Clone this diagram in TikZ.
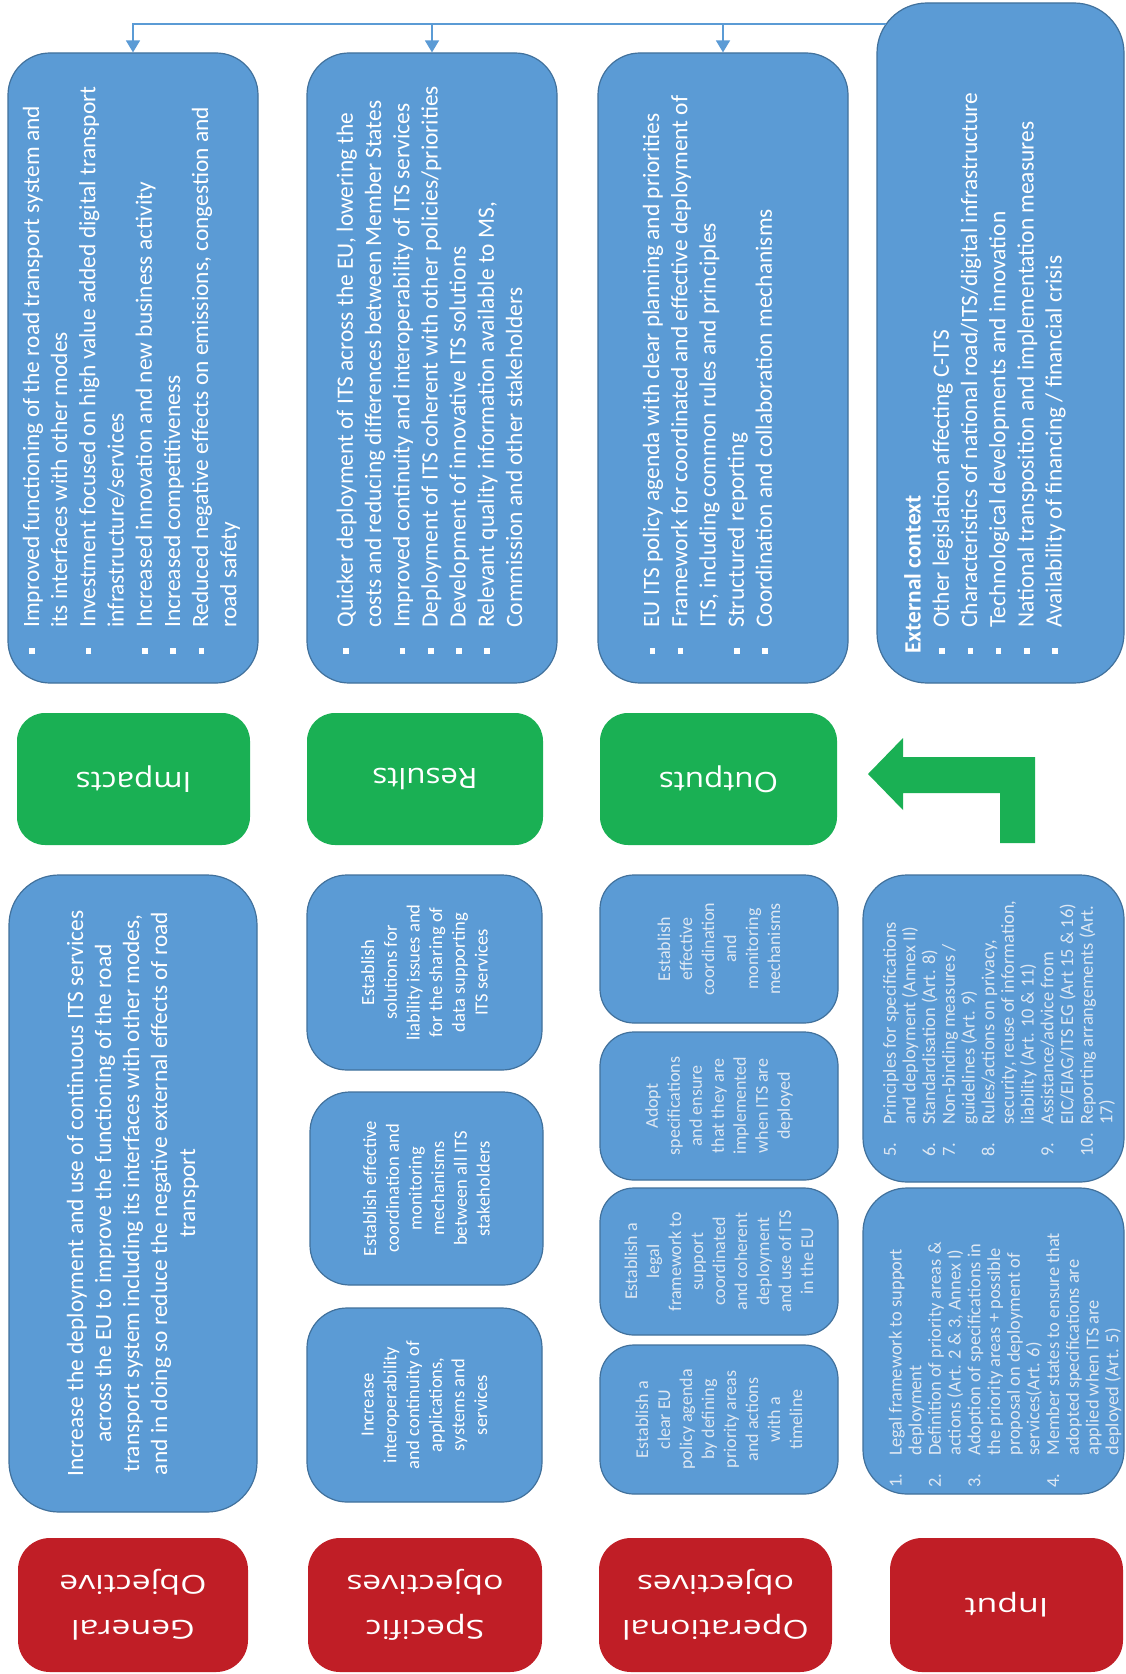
\documentclass[tikz,border=0pt]{standalone}
\usepackage{fontspec}
\setmainfont{Carlito}
\newfontfamily\labelfont{Open Sans}
\usepackage{graphicx}
\usetikzlibrary{arrows.meta}

\definecolor{itsblue}{RGB}{91,155,213}
\definecolor{itsedge}{RGB}{65,113,156}
\definecolor{itsgreen}{RGB}{26,176,84}
\definecolor{itsred}{RGB}{192,30,38}
\definecolor{paletext}{RGB}{222,232,243}

\newcommand{\bul}{\makebox[13pt][l]{\rule[2pt]{2.8pt}{2.8pt}}}
\newcommand{\bulgap}{\hspace*{13pt}}
\newcommand{\nr}[1]{\makebox[16pt][l]{#1}}
\newcommand{\nrgap}{\hspace*{16pt}}
\newcommand{\wide}[2][1.3]{\scalebox{#1}[1]{#2}}

\begin{document}
\begin{tikzpicture}[x=0.5pt, y=-0.5pt,
    bluebox/.style={draw=itsedge, line width=0.6pt, fill=itsblue, rounded corners=21pt, inner sep=0pt},
    greenbox/.style={fill=itsgreen, rounded corners=14pt, inner sep=0pt, minimum height=66pt, text=white, rotate=180, font=\labelfont\fontsize{14}{20}\selectfont},
    redbox/.style={fill=itsred, rounded corners=16pt, inner sep=0pt, minimum height=67pt, text=white, rotate=180, align=center, font=\labelfont\fontsize{13}{22.5}\selectfont},
    listtext/.style={rotate=90, anchor=west, inner sep=0pt, align=left, text=white, font=\fontsize{11.7}{14.1}\selectfont},
    gentext/.style={rotate=90, inner sep=0pt, align=center, text=white, font=\fontsize{11.7}{14}\selectfont},
    spectext/.style={rotate=90, inner sep=0pt, align=center, text=white, font=\fontsize{9.3}{11.35}\selectfont},
    optext/.style={rotate=90, inner sep=0pt, align=center, text=paletext, font=\fontsize{9}{11}\selectfont},
    intext/.style={rotate=90, anchor=west, inner sep=0pt, align=left, text=paletext, font=\fontsize{9.2}{9.85}\selectfont},
    link/.style={draw=itsblue, line width=0.8pt, -{Triangle[width=7pt,length=6pt]}}]

  \path[use as bounding box, fill=white] (0,0) rectangle (1125,1674);

  % top row
  \node[bluebox, minimum width=125pt, minimum height=315pt] (impacts) at (133,368) {};
  \node[bluebox, minimum width=125pt, minimum height=315pt] (results) at (432,368) {};
  \node[bluebox, minimum width=125pt, minimum height=315pt] (outputs) at (723,368) {};
  \node[bluebox, rounded corners=25pt, minimum width=123.5pt, minimum height=340pt] (external) at (1000.5,343) {};

  \node[listtext] (impactsTxt) at (131.5,654) {\bul Improved functioning of the road transport system and\\
    \bulgap its interfaces with other modes\\
    \bul Investment focused on high value added digital transport\\
    \bulgap infrastructure/services\\
    \bul Increased innovation and new business activity\\
    \bul Increased competitiveness\\
    \bul Reduced negative effects on emissions, congestion and\\
    \bulgap road safety};
  \node[listtext] (resultsTxt) at (429.5,654) {\bul Quicker deployment of ITS across the EU, lowering the\\
    \bulgap costs and reducing differences between Member States\\
    \bul Improved continuity and interoperability of ITS services\\
    \bul Deployment of ITS coherent with other policies/priorities\\
    \bul Development of innovative ITS solutions\\
    \bul Relevant quality information available to MS,\\
    \bulgap Commission and other stakeholders};
  \node[listtext] (outputsTxt) at (707.5,654) {\bul EU ITS policy agenda with clear planning and priorities\\
    \bul Framework for coordinated and effective deployment of\\
    \bulgap ITS, including common rules and principles\\
    \bul Structured reporting\\
    \bul Coordination and collaboration mechanisms};
  \node[listtext] (externalTxt) at (985,654) {\textbf{External context}\\
    \bul Other legislation affecting C-ITS\\
    \bul Characteristics of national road/ITS/digital infrastructure\\
    \bul Technological developments and innovation\\
    \bul National transposition and implementation measures\\
    \bul Availability of financing / financial crisis};

  \coordinate (feed) at (886,24);
  \draw[link] (feed) -| (impacts.north);
  \draw[link] (results.north |- feed) -- (results.north);
  \draw[link] (outputs.north |- feed) -- (outputs.north);

  % green row
  \node[greenbox, minimum width=116.5pt] (impactsLbl) at (133.5,779) {\wide[1.12]{Impacts}};
  \node[greenbox, minimum width=118pt] (resultsLbl) at (425,779) {\wide[1.12]{Results}};
  \node[greenbox, minimum width=118.5pt] (outputsLbl) at (718.5,779) {\wide[1.12]{Outputs}};
  \fill[itsgreen] (868,774) -- (903,738) -- (903,757) -- (1035,757) -- (1035,843)
    -- (1000,843) -- (1000,793) -- (903,793) -- (903,810) -- cycle;

  % objectives and input
  \node[bluebox, rounded corners=25pt, minimum width=124pt, minimum height=318.5pt] (general) at (133,1193.5) {};
  \node[gentext] (generalTxt) at (general) {Increase the deployment and use of continuous ITS services\\
    across the EU to improve the functioning of the road\\
    transport system including its interfaces with other modes,\\
    and in doing so reduce the negative external effects of road\\
    transport};

  \node[bluebox, rounded corners=20pt, minimum width=117.5pt, minimum height=97.5pt] (spec1) at (424.5,972.5) {};
  \node[bluebox, rounded corners=20pt, minimum width=116.5pt, minimum height=96.5pt] (spec2) at (426.5,1188.5) {};
  \node[bluebox, rounded corners=20pt, minimum width=117.5pt, minimum height=97pt] (spec3) at (424.5,1405) {};
  \node[spectext] (spec1Txt) at (spec1) {Establish\\ solutions for\\ liability issues and\\ for the sharing of\\ data supporting\\ ITS services};
  \node[spectext] (spec2Txt) at (spec2) {Establish effective\\ coordination and\\ monitoring\\ mechanisms\\ between all ITS\\ stakeholders};
  \node[spectext] (spec3Txt) at (spec3) {Increase\\ interoperability\\ and continuity of\\ applications,\\ systems and\\ services};

  \node[bluebox, rounded corners=17pt, minimum width=119pt, minimum height=74pt] (op1) at (719,949) {};
  \node[bluebox, rounded corners=17pt, minimum width=119pt, minimum height=74pt] (op2) at (719,1106) {};
  \node[bluebox, rounded corners=17pt, minimum width=119pt, minimum height=73.5pt] (op3) at (719,1261.5) {};
  \node[bluebox, rounded corners=17pt, minimum width=119pt, minimum height=74.5pt] (op4) at (719,1419.5) {};
  \node[optext] (op1Txt) at (op1) {Establish\\ effective\\ coordination\\ and\\ monitoring\\ mechanisms};
  \node[optext] (op2Txt) at (op2) {Adopt\\ specifications\\ and ensure\\ that they are\\ implemented\\ when ITS are\\ deployed};
  \node[optext] (op3Txt) at (op3) {Establish a\\ legal\\ framework to\\ support\\ coordinated\\ and coherent\\ deployment\\ and use of ITS\\ in the EU};
  \node[optext] (op4Txt) at (op4) {Establish a\\ clear EU\\ policy agenda\\ by defining\\ priority areas\\ and actions\\ with a\\ timeline};

  \node[bluebox, rounded corners=22pt, minimum width=130.5pt, minimum height=153.5pt] (inputA) at (993.5,1028.5) {};
  \node[bluebox, rounded corners=22pt, minimum width=130.5pt, minimum height=153pt] (inputB) at (993.5,1341) {};
  \node[intext] (inputATxt) at (999,1157) {\nr{5.}Principles for specifications\\
    \nrgap and deployment (Annex II)\\
    \nr{6.}Standardisation (Art. 8)\\
    \nr{7.}Non-binding measures /\\
    \nrgap guidelines (Art. 9)\\
    \nr{8.}Rules/actions on privacy,\\
    \nrgap security, reuse of information,\\
    \nrgap liability (Art. 10 \& 11)\\
    \nr{9.}Assistance/advice from\\
    \nrgap EIC/EIAG/ITS EG (Art 15 \& 16)\\
    \nr{10.}Reporting arrangements (Art.\\
    \nrgap 17)};
  \node[intext] (inputBTxt) at (1005,1488) {\nr{1.}Legal framework to support\\
    \nrgap deployment\\
    \nr{2.}Definition of priority areas \&\\
    \nrgap actions (Art. 2 \& 3, Annex I)\\
    \nr{3.}Adoption of specifications in\\
    \nrgap the priority areas + possible\\
    \nrgap proposal on deployment of\\
    \nrgap services(Art. 6)\\
    \nr{4.}Member states to ensure that\\
    \nrgap adopted specifications are\\
    \nrgap applied when ITS are\\
    \nrgap deployed (Art. 5)};

  % left labels
  \node[redbox, minimum width=115pt] (generalLbl) at (133,1605) {\wide{General}\\ \wide{Objective}};
  \node[redbox, minimum width=117pt] (specificLbl) at (425,1605) {\wide{Specific}\\ \wide{objectives}};
  \node[redbox, minimum width=116.5pt] (operationalLbl) at (715.5,1605) {\wide{Operational}\\ \wide{objectives}};
  \node[redbox, minimum width=116.5pt] (inputLbl) at (1006.5,1605) {\wide{Input}};
\end{tikzpicture}
\end{document}
